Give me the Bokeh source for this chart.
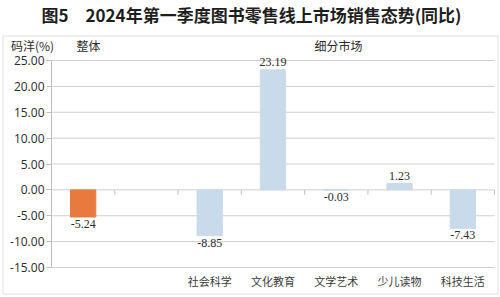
from bokeh.plotting import figure
from bokeh.models import (ColumnDataSource, LabelSet, Label, FixedTicker, LinearAxis,
                          PrintfTickFormatter, Range1d, BoxAnnotation)
from bokeh.embed import file_html
from bokeh.resources import INLINE

# ---- data ----
title_text = "图5\u30002024年第一季度图书零售线上市场销售态势(同比)"
categories = ["整体", "", "社会科学", "文化教育", "文学艺术", "少儿读物", "科技生活"]
values = [-5.24, None, -8.85, 23.19, -0.03, 1.23, -7.43]
is_total = [True, False, False, False, False, False, False]
y_ticks = [-15, -10, -5, 0, 5, 10, 15, 20, 25]
y_unit_label = "码洋(%)"
group_total = "整体"
group_segments = "细分市场"

ORANGE = "#E8793F"
BLUE = "#C9DBEA"
GRID = "#cfcfcf"
CJK = "Noto Sans CJK SC"
NUM = "Open Sans"

# ---- layout (pixels) ----
W, H = 500, 297
X_LEFT_PX, X_RIGHT_PX = 51, 494      # category span on screen
Y_TOP_PX, Y_BOT_PX = 60, 267         # top / bottom y tick on screen

n = len(categories)
ymin, ymax = y_ticks[0], y_ticks[-1]
ux = (X_RIGHT_PX - X_LEFT_PX) / n
uy = (Y_BOT_PX - Y_TOP_PX) / (ymax - ymin)
x_start, x_end = -X_LEFT_PX / ux, n + (W - X_RIGHT_PX) / ux
y_end, y_start = ymax + Y_TOP_PX / uy, ymin - (H - Y_BOT_PX) / uy


def dx(px):
    return x_start + px / ux


def dy(py):
    return y_end - py / uy


xs, ys, cols, labs = [], [], [], []
for i, (c, v, t) in enumerate(zip(categories, values, is_total)):
    if v is None:
        continue
    xs.append(i + 0.5)
    ys.append(v)
    cols.append(ORANGE if t else BLUE)
    labs.append(f"{v:.2f}")

src = ColumnDataSource(dict(x=xs, top=ys, color=cols))
pos = ColumnDataSource(dict(x=[x for x, y in zip(xs, ys) if y >= 0],
                            y=[y for y in ys if y >= 0],
                            label=[l for l, y in zip(labs, ys) if y >= 0]))
neg = ColumnDataSource(dict(x=[x for x, y in zip(xs, ys) if y < 0],
                            y=[y for y in ys if y < 0],
                            label=[l for l, y in zip(labs, ys) if y < 0]))

p = figure(width=W, height=H, output_backend="svg", toolbar_location=None,
           x_range=Range1d(x_start, x_end), y_range=Range1d(y_start, y_end),
           x_axis_location=None, y_axis_location=None,
           min_border_left=0, min_border_right=0, min_border_top=0, min_border_bottom=0)
p.outline_line_color = None
p.background_fill_color = "white"
p.border_fill_color = "white"
p.xgrid.visible = False
p.ygrid.visible = False

# outer frame box
p.add_layout(BoxAnnotation(left=dx(2.5), right=dx(497.5), top=dy(35.5), bottom=dy(293.5),
                           fill_color=None, line_color="#9a9a9a", line_width=1,
                           level="underlay"))

# horizontal grid lines across the category span (0 line included)
p.segment(x0=0, x1=n, y0=y_ticks, y1=y_ticks, line_color=GRID, line_width=1)
# small separator ticks under the zero line between categories
sep = list(range(1, n + 1))
p.segment(x0=sep, x1=sep, y0=0, y1=-5 / uy, line_color="#c4c4c4", line_width=1)

# y axis at the left edge of the category span
yax = LinearAxis(fixed_location=0, bounds=(ymin, ymax),
                 ticker=FixedTicker(ticks=y_ticks), formatter=PrintfTickFormatter(format="%.2f"))
yax.axis_line_color = "#bdbdbd"
yax.major_tick_line_color = "#bdbdbd"
yax.major_tick_out = 5
yax.major_tick_in = 0
yax.minor_tick_line_color = None
yax.major_label_standoff = 2
yax.major_label_text_font = NUM
yax.major_label_text_font_size = "12px"
yax.major_label_text_color = "#2b2b2b"
p.add_layout(yax, "left")

# category labels under the chart
lab_ticks = [i + 0.5 for i, (c, t) in enumerate(zip(categories, is_total)) if c and not t]
cax = LinearAxis(fixed_location=ymin, ticker=FixedTicker(ticks=lab_ticks))
cax.major_label_overrides = {i + 0.5: c for i, (c, t) in enumerate(zip(categories, is_total)) if c and not t}
cax.axis_line_color = None
cax.major_tick_line_color = None
cax.minor_tick_line_color = None
cax.major_tick_out = 0
cax.major_tick_in = 0
cax.major_label_standoff = 5
cax.major_label_text_font = CJK
cax.major_label_text_font_size = "11px"
cax.major_label_text_color = "#3a3a3a"
p.add_layout(cax, "below")

# bars
p.vbar(x="x", top="top", bottom=0, width=0.4, color="color", source=src)

# value labels
p.add_layout(LabelSet(x="x", y="y", text="label", source=pos, y_offset=4,
                      text_align="center", text_baseline="bottom",
                      text_font=NUM, text_font_size="12px", text_color="#2b2b2b"))
p.add_layout(LabelSet(x="x", y="y", text="label", source=neg, y_offset=-3,
                      text_align="center", text_baseline="top",
                      text_font=NUM, text_font_size="12px", text_color="#2b2b2b"))

# title
p.add_layout(Label(x=dx(251), y=dy(1.5), text=title_text, text_align="center",
                   text_baseline="top", text_font=CJK, text_font_size="17px",
                   text_font_style="bold", text_color="#1e1e1e"))

# header texts
for hpx, ht in [(32, y_unit_label), (88, group_total), (338, group_segments)]:
    p.add_layout(Label(x=dx(hpx), y=dy(45), text=ht, text_align="center",
                       text_baseline="middle", text_font=CJK, text_font_size="12px",
                       text_color="#2b2b2b"))

open("out.html", "w").write(file_html(p, INLINE))
